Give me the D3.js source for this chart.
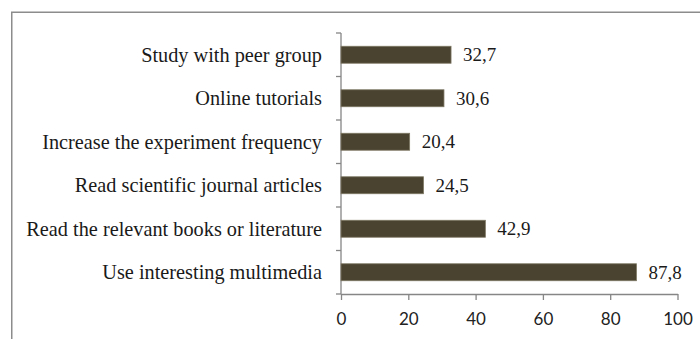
<!DOCTYPE html>
<html>
<head>
<meta charset="utf-8">
<script src="https://cdn.jsdelivr.net/npm/d3@7"></script>
<style>
  html, body { margin: 0; padding: 0; background: #fff; }
  svg { display: block; }
</style>
</head>
<body>
<div id="chart"></div>
<script>
// Categories top to bottom, with percentage values
const categories = [
  'Study with peer group',
  'Online tutorials',
  'Increase the experiment frequency',
  'Read scientific journal articles',
  'Read the relevant books or literature',
  'Use interesting multimedia'
];
const values = [32.7, 30.6, 20.4, 24.5, 42.9, 87.8];
const xTicks = [0, 20, 40, 60, 80, 100];

const width = 700, height = 339;
const margin = { top: 33, right: 22, bottom: 45, left: 341 };

const svg = d3.select('#chart').append('svg')
  .attr('width', width)
  .attr('height', height);

// outer frame (only top and left edges visible in the crop)
svg.append('path')
  .attr('d', `M11.75,${height} V12.25 H${width}`)
  .attr('fill', 'none')
  .attr('stroke', '#8c8c8c')
  .attr('stroke-width', 1.5);

const x = d3.scaleLinear()
  .domain([0, 100])
  .range([margin.left, 677.5]);

const y = d3.scaleBand()
  .domain(categories)
  .range([margin.top, height - margin.bottom])
  .paddingInner(0.61)
  .paddingOuter(0.305);

const yEdge = d3.scaleLinear()
  .domain([0, categories.length])
  .range([margin.top, height - margin.bottom]);

const axisColor = '#868686';

// y axis line and boundary ticks
svg.append('line')
  .attr('x1', margin.left).attr('x2', margin.left)
  .attr('y1', yEdge(0)).attr('y2', yEdge(categories.length))
  .attr('stroke', axisColor).attr('stroke-width', 1.3);

svg.selectAll('.ytick')
  .data(d3.range(categories.length + 1))
  .join('line')
  .attr('x1', margin.left - 5).attr('x2', margin.left)
  .attr('y1', d => yEdge(d)).attr('y2', d => yEdge(d))
  .attr('stroke', axisColor).attr('stroke-width', 1.3);

// bars
svg.selectAll('.bar')
  .data(values)
  .join('rect')
  .attr('x', x(0))
  .attr('y', (d, i) => y(categories[i]))
  .attr('width', d => x(d) - x(0))
  .attr('height', y.bandwidth())
  .attr('fill', '#4a4330')
  .attr('stroke', '#7d7763')
  .attr('stroke-width', 0.8);

// x axis
const xAxis = svg.append('g')
  .attr('transform', `translate(0,${yEdge(categories.length)})`)
  .call(d3.axisBottom(x).tickValues(xTicks).tickSize(6).tickSizeOuter(0).tickPadding(13));

xAxis.select('.domain').attr('stroke', axisColor).attr('stroke-width', 1.3);
xAxis.selectAll('.tick line').attr('stroke', axisColor).attr('stroke-width', 1.3);
xAxis.selectAll('.tick text')
  .attr('fill', '#222')
  .style('font-family', 'Lato, sans-serif')
  .style('font-size', '17px');

// category labels
svg.selectAll('.cat')
  .data(categories)
  .join('text')
  .attr('x', 322)
  .attr('y', d => y(d) + y.bandwidth() / 2)
  .attr('dy', '0.35em')
  .attr('text-anchor', 'end')
  .style('font-family', '"Liberation Serif", "Times New Roman", serif')
  .style('font-size', '20.3px')
  .attr('fill', '#1a1a1a')
  .text(d => d);

// value labels
svg.selectAll('.val')
  .data(values)
  .join('text')
  .attr('x', d => x(d) + 12)
  .attr('y', (d, i) => y(categories[i]) + y.bandwidth() / 2)
  .attr('dy', '0.35em')
  .style('font-family', '"Liberation Serif", "Times New Roman", serif')
  .style('font-size', '19px')
  .attr('fill', '#1a1a1a')
  .text(d => d.toFixed(1).replace('.', ','));
</script>
</body>
</html>
